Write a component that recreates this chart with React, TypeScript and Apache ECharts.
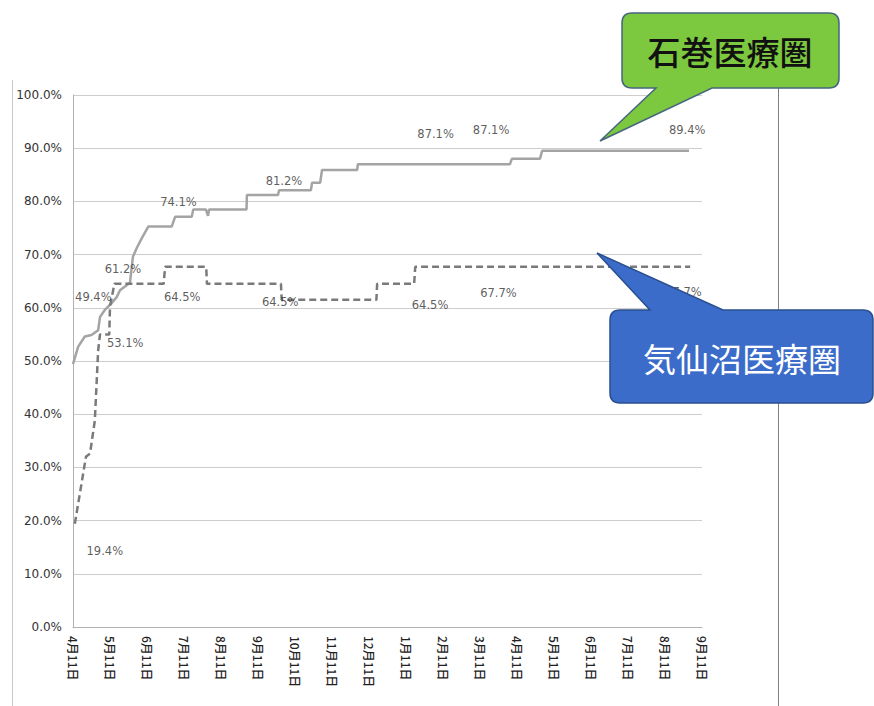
import React, { useEffect, useRef } from "react";
import * as echarts from "echarts";

// x positions are months elapsed since 4月11日
const xLabels = ["4月11日", "5月11日", "6月11日", "7月11日", "8月11日", "9月11日", "10月11日", "11月11日", "12月11日", "1月11日", "2月11日", "3月11日", "4月11日", "5月11日", "6月11日", "7月11日", "8月11日", "9月11日"];
const yTicks = [0, 10, 20, 30, 40, 50, 60, 70, 80, 90, 100];

const ishinomaki: [number, number][] = [
  [0, 49.4], [0.14, 52.7], [0.32, 54.6], [0.5, 54.9], [0.68, 55.8], [0.73, 58.3], [0.86, 59.6],
  [1.05, 60.9], [1.18, 62], [1.27, 63.3], [1.54, 64.7], [1.62, 69.6], [1.72, 71.2], [1.86, 73.1],
  [2.04, 75.3], [2.67, 75.3], [2.76, 77.1], [3.21, 77.1], [3.25, 78.5], [3.59, 78.5], [3.65, 77.3],
  [3.68, 78.5], [4.69, 78.5], [4.7, 81.2], [5.54, 81.2], [5.57, 82.1], [6.43, 82.1], [6.46, 83.5],
  [6.68, 83.5], [6.73, 85.9], [7.68, 85.9], [7.7, 87.0], [11.81, 87.0], [11.86, 88.0], [12.62, 88.0],
  [12.68, 89.5], [16.65, 89.5],
];

const kesennuma: [number, number][] = [
  [0.05, 19.4], [0.35, 32.0], [0.46, 32.6], [0.59, 38.8], [0.68, 52.0], [0.73, 55.0], [0.98, 55.0],
  [1.0, 60.3], [1.12, 64.5], [2.45, 64.5], [2.49, 67.7], [3.6, 67.7], [3.62, 64.5], [5.62, 64.5],
  [5.64, 61.5], [8.2, 61.5], [8.22, 64.5], [9.22, 64.5], [9.25, 67.7], [16.68, 67.7],
];

// data labels: [month, value position, text]
const ishinomakiLabels: [number, number, string][] = [
  [0.55, 62.0, "49.4%"], [1.35, 67.3, "61.2%"], [2.85, 79.8, "74.1%"], [5.7, 83.9, "81.2%"],
  [9.8, 92.6, "87.1%"], [11.3, 93.4, "87.1%"], [16.6, 93.4, "89.4%"],
];
const kesennumaLabels: [number, number, string][] = [
  [0.86, 14.3, "19.4%"], [1.41, 53.4, "53.1%"], [2.95, 62.0, "64.5%"], [5.6, 61.0, "64.5%"],
  [9.65, 60.5, "64.5%"], [11.5, 62.7, "67.7%"], [16.5, 63.0, "67.7%"],
];

const greenCalloutPath =
  "M632,13 H829 Q839,13 839,23 V78 Q839,88 829,88 H712 L600,141 L656,88 H632 Q622,88 622,78 V23 Q622,13 632,13 Z";
const blueCalloutPath =
  "M620,310 H650 L597,253 L723,310 H863 Q873,310 873,320 V393 Q873,403 863,403 H620 Q610,403 610,393 V320 Q610,310 620,310 Z";

let registered = false;
function registerShapes() {
  if (registered) return;
  echarts.graphic.registerShape("greenCallout", echarts.graphic.extendPath(greenCalloutPath, {}));
  echarts.graphic.registerShape("blueCallout", echarts.graphic.extendPath(blueCalloutPath, {}));
  registered = true;
}

export default function App() {
  const ref = useRef<HTMLDivElement>(null);
  useEffect(() => {
    if (!ref.current) return;
    registerShapes();
    const chart = echarts.init(ref.current, null, { renderer: "svg" });
    const labelStyle = {
      show: true,
      position: "inside" as const,
      color: "#333333",
      fontSize: 11.5,
      fontFamily: "DejaVu Sans",
    };
    const toLabelData = (arr: [number, number, string][]) =>
      arr.map(([m, v, t]) => ({ value: [m, v], label: { formatter: t } }));
    chart.setOption({
      animation: false,
      backgroundColor: "#ffffff",
      grid: { left: 73, right: 172, top: 95, bottom: 79 },
      xAxis: {
        type: "value",
        min: 0,
        max: xLabels.length - 1,
        interval: 1,
        axisLine: { show: true, lineStyle: { color: "#b0b0b0", width: 1 } },
        axisTick: { show: false },
        splitLine: { show: false },
        axisLabel: {
          rotate: -90,
          margin: 9,
          showMinLabel: true,
          showMaxLabel: true,
          color: "#222222",
          fontSize: 12,
          fontWeight: 500,
          fontFamily: "Noto Sans CJK JP",
          formatter: (v: number) => xLabels[Math.round(v)] ?? "",
        },
      },
      yAxis: {
        type: "value",
        min: yTicks[0],
        max: yTicks[yTicks.length - 1],
        interval: 10,
        axisLine: { show: true, lineStyle: { color: "#b0b0b0", width: 1 } },
        axisTick: { show: false },
        splitLine: { show: true, lineStyle: { color: "#cdcdcd", width: 1 } },
        axisLabel: {
          margin: 11,
          color: "#333333",
          fontSize: 12,
          fontFamily: "DejaVu Sans",
          formatter: (v: number) => v.toFixed(1) + "%",
        },
      },
      series: [
        {
          name: "石巻医療圏",
          type: "line",
          data: ishinomaki,
          showSymbol: false,
          lineStyle: { color: "#a4a4a4", width: 2.5 },
          z: 3,
        },
        {
          name: "気仙沼医療圏",
          type: "line",
          data: kesennuma,
          showSymbol: false,
          lineStyle: { color: "#7a7a7a", width: 2.5, type: [7, 4] },
          z: 4,
        },
        {
          name: "石巻ラベル",
          type: "scatter",
          symbolSize: 0,
          data: toLabelData(ishinomakiLabels),
          label: labelStyle,
          z: 5,
        },
        {
          name: "気仙沼ラベル",
          type: "scatter",
          symbolSize: 0,
          data: toLabelData(kesennumaLabels),
          label: labelStyle,
          z: 5,
        },
      ],
      graphic: [
        { type: "line", shape: { x1: 12.5, y1: 80, x2: 12.5, y2: 706 }, style: { stroke: "#c8c8c8", lineWidth: 1 }, z: 1 },
        { type: "line", shape: { x1: 778.5, y1: 80, x2: 778.5, y2: 706 }, style: { stroke: "#808080", lineWidth: 1 }, z: 1 },
        {
          type: "greenCallout",
          x: 0,
          y: 0,
          style: { fill: "#7cc83e", stroke: "#46667f", lineWidth: 1.5 },
          z: 100,
        },
        {
          type: "text",
          x: 730,
          y: 51,
          style: {
            text: "石巻医療圏",
            fill: "#111111",
            font: "500 33px 'Noto Sans CJK JP'",
            align: "center",
            verticalAlign: "middle",
          },
          z: 101,
        },
        {
          type: "blueCallout",
          x: 0,
          y: 0,
          style: { fill: "#3b6cc9", stroke: "#2a4f8f", lineWidth: 1.5 },
          z: 100,
        },
        {
          type: "text",
          x: 742,
          y: 358,
          style: {
            text: "気仙沼医療圏",
            fill: "#ffffff",
            font: "33px 'Noto Sans CJK JP'",
            align: "center",
            verticalAlign: "middle",
          },
          z: 101,
        },
      ],
    });
    return () => chart.dispose();
  }, []);
  return <div ref={ref} style={{ width: 874, height: 706, position: "absolute", left: 0, top: 0 }} />;
}
